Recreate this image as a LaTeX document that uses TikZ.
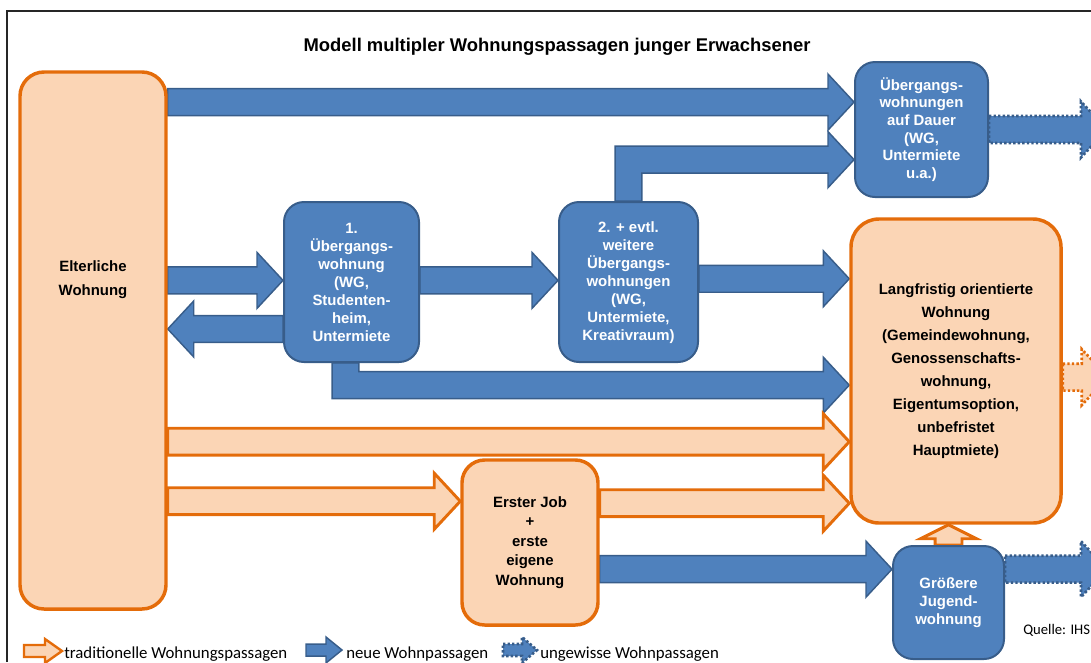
\documentclass[tikz,border=0pt]{standalone}
\usepackage{fontspec}
\setmainfont{Liberation Sans}
\newfontfamily\legendfont{Carlito}
\usetikzlibrary{calc}
\usetikzlibrary{backgrounds}

\definecolor{peach}{RGB}{251,213,181}
\definecolor{orng}{RGB}{228,108,10}
\definecolor{blu}{RGB}{79,129,189}
\definecolor{bluedge}{RGB}{56,93,138}

\newcommand{\shaftw}{10.1pt}
\newcommand{\headw}{21pt}
\newcommand{\headl}{19.5pt}
% block arrows: the height of a horizontal arrow is taken from its tip
\newcommand{\rightblock}[3]{%
  \draw[#1] let \p1=(#2), \p2=(#3) in
    (\x1,\y2+\shaftw) -- (\x2-\headl,\y2+\shaftw) -- (\x2-\headl,\y2+\headw)
    -- (\x2,\y2) -- (\x2-\headl,\y2-\headw) -- (\x2-\headl,\y2-\shaftw)
    -- (\x1,\y2-\shaftw) -- cycle;}
\newcommand{\leftblock}[3]{%
  \draw[#1] let \p1=(#2), \p2=(#3) in
    (\x1,\y1+\shaftw) -- (\x2+\headl,\y1+\shaftw) -- (\x2+\headl,\y1+\headw)
    -- (\x2,\y1) -- (\x2+\headl,\y1-\headw) -- (\x2+\headl,\y1-\shaftw)
    -- (\x1,\y1-\shaftw) -- cycle;}
\newcommand{\elbowup}[3]{%
  \draw[#1] let \p1=(#2), \p2=(#3) in
    (\x1-\shaftw,\y1) -- (\x1-\shaftw,\y2+\shaftw) -- (\x2-\headl,\y2+\shaftw)
    -- (\x2-\headl,\y2+\headw) -- (\x2,\y2) -- (\x2-\headl,\y2-\headw)
    -- (\x2-\headl,\y2-\shaftw) -- (\x1+\shaftw,\y2-\shaftw) -- (\x1+\shaftw,\y1) -- cycle;}
\newcommand{\elbowdown}[3]{%
  \draw[#1] let \p1=(#2), \p2=(#3) in
    (\x1-\shaftw,\y1) -- (\x1-\shaftw,\y2-\shaftw) -- (\x2-\headl,\y2-\shaftw)
    -- (\x2-\headl,\y2-\headw) -- (\x2,\y2) -- (\x2-\headl,\y2+\headw)
    -- (\x2-\headl,\y2+\shaftw) -- (\x1+\shaftw,\y2+\shaftw) -- (\x1+\shaftw,\y1) -- cycle;}
\newcommand{\upblock}[3]{%
  \draw[#1] let \p1=(#2), \p2=(#3) in
    (\x1-\shaftw,\y1) -- (\x1-\shaftw,\y2-10.5pt) -- (\x1-\headw,\y2-10.5pt)
    -- (\x1,\y2) -- (\x1+\headw,\y2-10.5pt) -- (\x1+\shaftw,\y2-10.5pt)
    -- (\x1+\shaftw,\y1) -- cycle;}

\begin{document}
\begin{tikzpicture}[x=0.75pt,y=-0.75pt,
bluebox/.style={draw=bluedge,line width=1.5pt,fill=blu,rounded corners=15pt,text=white,align=center,inner sep=0pt,font=\bfseries\fontsize{11.2}{13.5}\selectfont},
orangebox/.style={draw=orng,line width=2.6pt,fill=peach,rounded corners=17pt,align=center,inner sep=0pt,font=\bfseries\fontsize{11.2}{14.6}\selectfont},
bluear/.style={draw=bluedge,line width=1.1pt,fill=blu},
orangear/.style={draw=orng,line width=2.2pt,fill=peach},
bluevague/.style={draw=bluedge,line width=2pt,dash pattern=on 1.8pt off 1.6pt,fill=blu},
orangevague/.style={draw=orng,line width=2pt,dash pattern=on 1.8pt off 1.6pt,fill=peach},
legendtxt/.style={font=\legendfont\fontsize{12.6}{14}\selectfont,inner sep=0pt,anchor=base west}]
\useasboundingbox (0,0) rectangle (1091,662);
% The frame and the title
\draw[line width=0.8pt,black!85] (7,662) -- (7,11) -- (1091,11);
\node[font=\bfseries\fontsize{13.8}{16}\selectfont] (title) at (557,47) {Modell multipler Wohnungspassagen junger Erwachsener};

% The boxes
\node[orangebox,rounded corners=18pt,minimum width=109.5pt,minimum height=402.75pt] (elt) at (93,340.5) {};
\node[font=\bfseries\fontsize{11.2}{18}\selectfont,align=center] (elttext) at (93,280) {Elterliche\\Wohnung};
\node[bluebox,minimum width=99.75pt,minimum height=101.25pt,font=\bfseries\fontsize{11.2}{13.2}\selectfont] (dauer) at (921.5,129.5) {Übergangs-\\wohnungen\\auf Dauer\\(WG,\\Untermiete\\u.a.)};
\node[bluebox,minimum width=101.25pt,minimum height=120pt] (ueb1) at (351.5,282) {1.\\Übergangs-\\wohnung\\(WG,\\Studenten-\\heim,\\Untermiete};
\node[bluebox,minimum width=104.25pt,minimum height=120pt] (ueb2) at (628.5,282) {\\[-5pt]2. + evtl.\\weitere\\Übergangs-\\wohnungen\\(WG,\\Untermiete,\\Kreativraum)};
\node[orangebox,rounded corners=21pt,minimum width=157.5pt,minimum height=228pt,font=\bfseries\fontsize{11.2}{17.25}\selectfont] (lang) at (956,371) {Langfristig orientierte\\Wohnung\\(Gemeindewohnung,\\Genossenschafts-\\wohnung,\\Eigentumsoption,\\unbefristet\\Hauptmiete)};
\node[orangebox,minimum width=102pt,minimum height=123.75pt] (job) at (530,542.5) {Erster Job\\+\\erste\\eigene\\Wohnung};
\node[bluebox,minimum width=83.25pt,minimum height=84.75pt] (gross) at (948.5,602.5) {Größere\\Jugend-\\wohnung};

% The passages
\begin{scope}[on background layer]
\rightblock{bluear}{elt.east}{$(dauer.north west)!0.30!(dauer.south west)$}
\elbowup{bluear}{ueb2.north}{$(dauer.north west)!0.72!(dauer.south west)$}
\rightblock{bluear}{elt.east}{$(ueb1.north west)!0.49!(ueb1.south west)$}
\leftblock{bluear}{$(ueb1.north west)!0.79!(ueb1.south west)$}{elt.east}
\rightblock{bluear}{ueb1.east}{$(ueb2.north west)!0.49!(ueb2.south west)$}
\rightblock{bluear}{ueb2.east}{$(lang.north west)!0.20!(lang.south west)$}
\elbowdown{bluear}{[xshift=-4.5pt]ueb1.south}{$(lang.north west)!0.546!(lang.south west)$}
\rightblock{orangear}{elt.east}{$(lang.north west)!0.73!(lang.south west)$}
\rightblock{orangear}{elt.east}{$(job.north west)!0.255!(job.south west)$}
\rightblock{orangear}{job.east}{$(lang.north west)!0.93!(lang.south west)$}
\rightblock{bluear}{job.east}{$(gross.north west)!0.21!(gross.south west)$}
\upblock{orangear}{gross.north}{lang.south}
% uncertain passages
\rightblock{bluevague}{dauer.east}{$(dauer.east)+(88.5pt,0)$}
\rightblock{orangevague}{lang.east}{$(lang.north east)!0.52!(lang.south east)+(33.75pt,0)$}
\rightblock{bluevague}{gross.east}{$(gross.north east)!0.21!(gross.south east)+(76.5pt,0)$}
\end{scope}

% Source and legend
\node[font=\legendfont\fontsize{11}{13}\selectfont,inner sep=0pt,anchor=base west] (quelle) at (1023,634) {Quelle: IHS};
\draw[orangear,line width=1.8pt] (24,645) -- (45,645) -- (45,639) -- (62,651) -- (45,663) -- (45,657) -- (24,657) -- cycle;
\node[legendtxt] (lgtrad) at (64,658) {traditionelle Wohnungspassagen};
\draw[bluear] (306,644) -- (326,644) -- (326,637) -- (342,650) -- (326,663) -- (326,656) -- (306,656) -- cycle;
\node[legendtxt] (lgneu) at (346,658) {neue Wohnpassagen};
\draw[bluevague] (503,644) -- (522,644) -- (522,637) -- (537,650) -- (522,663) -- (522,656) -- (503,656) -- cycle;
\node[legendtxt] (lgvague) at (540,658) {ungewisse Wohnpassagen};
\end{tikzpicture}
\end{document}
